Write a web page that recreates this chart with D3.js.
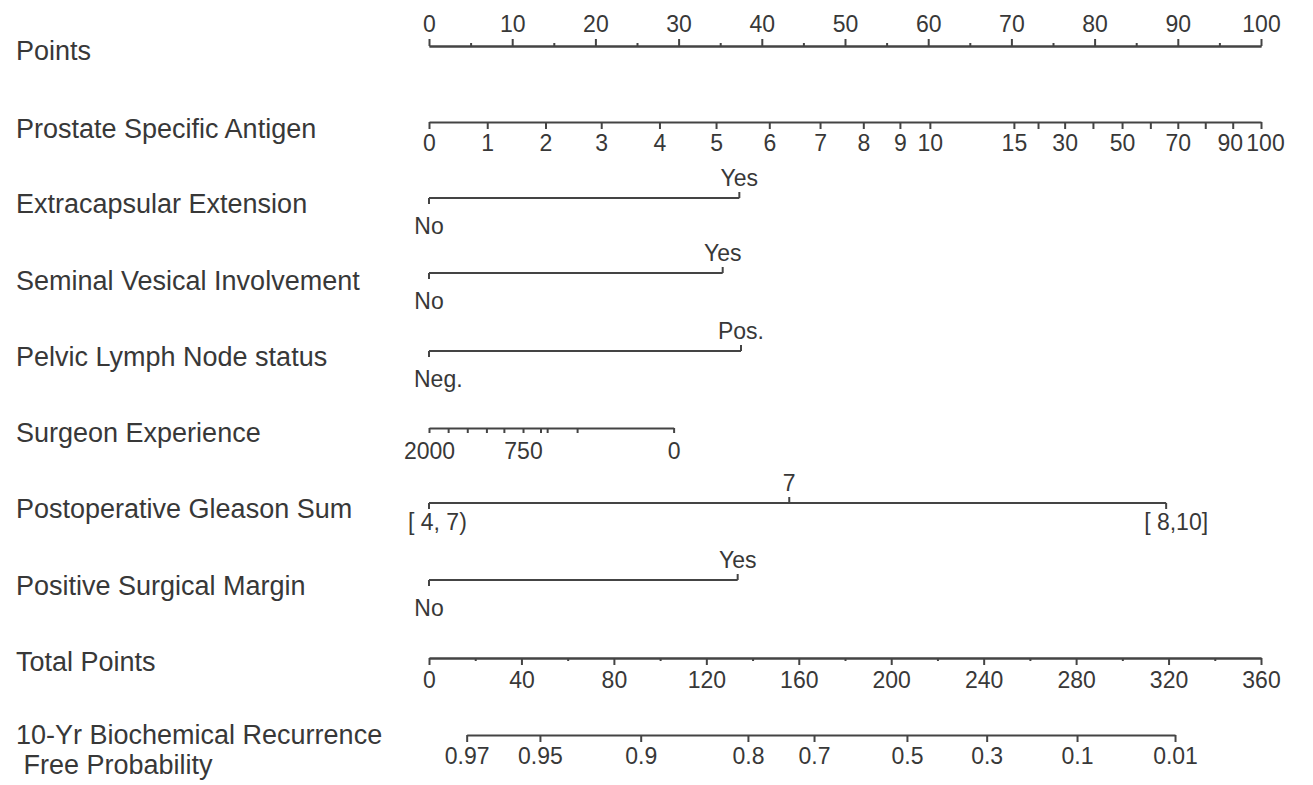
<!DOCTYPE html>
<html>
<head>
<meta charset="utf-8">
<script src="https://cdn.jsdelivr.net/npm/d3@7"></script>
<style>
  body { margin: 0; background: #fff; }
  svg text { font-family: "Liberation Sans", Arial, sans-serif; fill: #383838; }
  .ax path, .ax line, .seg { stroke: #444; stroke-width: 2; fill: none; }
</style>
</head>
<body>
<svg id="chart" width="1313" height="785"></svg>
<script>
// values
const pointTicks = [0, 10, 20, 30, 40, 50, 60, 70, 80, 90, 100];
const pointMinor = [5, 15, 25, 35, 45, 55, 65, 75, 85, 95];

const psaLevels = [0, 1, 2, 3, 4, 5, 6, 7, 8, 9, 10, 15, 20, 30, 40, 50, 60, 70, 80, 90, 100];
const psaPoints = [0, 7.0, 14.0, 20.7, 27.7, 34.5, 40.9, 47.0, 52.2, 56.6, 60.2, 70.3, 73.2, 76.4, 79.8, 83.3, 86.7, 90.0, 93.3, 96.6, 100];
const psaShown = [0, 1, 2, 3, 4, 5, 6, 7, 8, 9, 10, 15, 30, 50, 70, 90, 100];

const eceLevels = ["No", "Yes"];
const ecePoints = [0, 37.3];
const sviLevels = ["No", "Yes"];
const sviPoints = [0, 35.3];
const plnLevels = ["Neg.", "Pos."];
const plnPoints = [0, 37.5];

const surgeonLevels = [2000, 1750, 1500, 1250, 1000, 750, 500, 450, 250, 0];
const surgeonPoints = [0, 2.3, 4.6, 6.9, 9.0, 11.3, 13.4, 14.2, 17.8, 29.4];
const surgeonShown = [2000, 750, 0];

const gleasonLevels = ["[ 4, 7)", "7", "[ 8,10]"];
const gleasonPoints = [0, 43.3, 88.6];
const psmLevels = ["No", "Yes"];
const psmPoints = [0, 37.1];

const totalTicks = [0, 40, 80, 120, 160, 200, 240, 280, 320, 360];
const totalMinor = [20, 60, 100, 140, 180, 220, 260, 300, 340];

const probLabels = ["0.97", "0.95", "0.9", "0.8", "0.7", "0.5", "0.3", "0.1", "0.01"];
const probTotal = [16.3, 48, 91.6, 138, 166.6, 206.8, 241.3, 280.4, 322.8];

const svg = d3.select("#chart");
const x0 = 429, x1 = 1261;
const xPts = d3.scaleLinear().domain([0, 100]).range([x0, x1]);
const xTot = d3.scaleLinear().domain([0, 360]).range([x0, x1]);
const tickFont = 23;

// left hand labels
const rowNames = [
    ["Points", 50], ["Prostate Specific Antigen", 128], ["Extracapsular Extension", 203],
    ["Seminal Vesical Involvement", 280], ["Pelvic Lymph Node status", 356],
    ["Surgeon Experience", 432], ["Postoperative Gleason Sum", 508],
    ["Positive Surgical Margin", 585], ["Total Points", 661],
    ["10-Yr Biochemical Recurrence", 734], [" Free Probability", 764]
];
svg.append("g").selectAll("text")
    .data(rowNames).join("text")
    .attr("x", 16).attr("y", d => d[1] + 9.5)
    .attr("font-size", 27)
    .attr("xml:space", "preserve")
    .text(d => d[0]);

// helper: draw an axis with major (labelled) and minor ticks
function drawAxis(y, scale, major, minor, fmt, up) {
    const g = svg.append("g").attr("class", "ax").attr("transform", `translate(0,${y})`);
    const mk = up ? d3.axisTop : d3.axisBottom;
    g.append("g").call(mk(scale).tickValues(major).tickFormat(fmt)
        .tickSize(7).tickSizeOuter(0).tickPadding(7));
    if (minor.length) {
        g.append("g").call(mk(scale).tickValues(minor).tickFormat("")
            .tickSize(3).tickSizeOuter(0));
    }
    g.selectAll("text").attr("font-size", tickFont).attr("font-family", null);
    return g;
}

// Points
drawAxis(46, xPts, pointTicks, pointMinor, d => d, true);

// PSA (piecewise scale from value to position)
const psaScale = d3.scaleLinear().domain(psaLevels).range(psaPoints.map(xPts));
const psaAx = drawAxis(122, psaScale, psaLevels, [], d => psaShown.includes(d) ? d : "", false);
psaAx.selectAll("text").attr("dy", "0.71em").attr("y", 13);
psaAx.selectAll(".tick text").filter(d => d === 90).attr("dx", -3);
psaAx.selectAll(".tick text").filter(d => d === 100).attr("dx", 4);

// categorical rows
function drawFactor(y, levels, pts, sides) {
    const g = svg.append("g");
    const xs = pts.map(xPts);
    g.append("line").attr("class", "seg")
        .attr("x1", d3.min(xs)).attr("x2", d3.max(xs)).attr("y1", y).attr("y2", y);
    levels.forEach((lv, i) => {
        const up = sides[i] === "up";
        g.append("line").attr("class", "seg")
            .attr("x1", xs[i]).attr("x2", xs[i])
            .attr("y1", y).attr("y2", up ? y - 6 : y + 6);
        g.append("text")
            .attr("x", xs[i])
            .attr("y", up ? y - 12 : y + 36)
            .attr("text-anchor", "middle")
            .attr("font-size", tickFont)
            .text(lv);
    });
    return g;
}

drawFactor(198, eceLevels, ecePoints, ["down", "up"]);
drawFactor(273, sviLevels, sviPoints, ["down", "up"]);
drawFactor(351, plnLevels, plnPoints, ["down", "up"]).selectAll("text")
    .filter((d, i) => i === 0).attr("text-anchor", "start").attr("x", x0 - 15);

// Surgeon experience
const surgScale = d3.scaleLinear().domain(surgeonLevels).range(surgeonPoints.map(xPts));
drawAxis(428, surgScale, surgeonLevels, [], d => surgeonShown.includes(d) ? d : "", false)
    .call(g => g.selectAll(".tick line").attr("y2", 5))
    .selectAll("text").attr("y", 15);

// Gleason
const gl = drawFactor(503, gleasonLevels, gleasonPoints, ["down", "up", "down"]);
gl.selectAll("text").filter((d, i) => i !== 1)
    .attr("y", 503 + 27);
gl.selectAll("text").filter((d, i) => i === 0)
    .attr("text-anchor", "start").attr("x", x0 - 21).attr("xml:space", "preserve");
gl.selectAll("text").filter((d, i) => i === 2)
    .attr("text-anchor", "start").attr("x", xPts(gleasonPoints[2]) - 22).attr("xml:space", "preserve");

drawFactor(580, psmLevels, psmPoints, ["down", "up"]);

// Total points
drawAxis(658, xTot, totalTicks, totalMinor, d => d, false)
    .selectAll(".tick text").attr("y", 14);

// probability axis
const probScale = d3.scaleLinear().domain(probTotal).range(probTotal.map(xTot));
drawAxis(735, probScale, probTotal, [], (d, i) => probLabels[i], false)
    .selectAll(".tick text").attr("y", 13);
</script>
</body>
</html>
